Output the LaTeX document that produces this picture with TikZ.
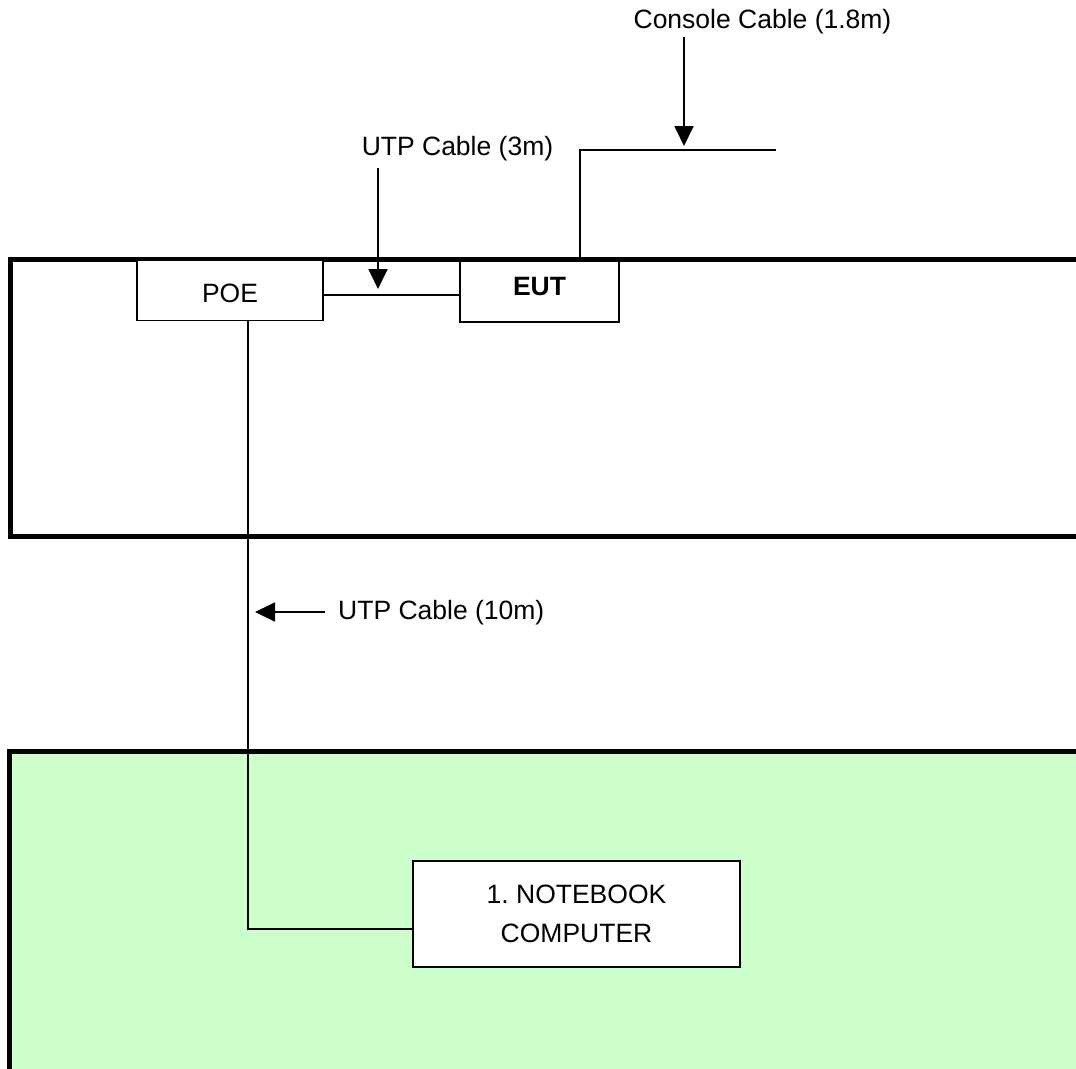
\documentclass[tikz,border=0pt]{standalone}
\usepackage{fontspec}
\setmainfont{Liberation Sans}
\frenchspacing
\usetikzlibrary{arrows.meta}
\definecolor{roomgreen}{HTML}{CCFFCC}
\tikzset{
  thin line/.style={line width=1.8pt, line join=miter},
  room/.style={line width=5pt},
  arr/.style={thin line, -{Triangle[width=19pt,length=20pt]}},
  box/.style={draw, line width=1.8pt, fill=white, inner sep=0pt},
  lbl/.style={inner sep=0pt, font=\fontsize{26.5}{39}\selectfont}
}
\begin{document}
\begin{tikzpicture}[x=1pt,y=-1pt]
\useasboundingbox (0,0) rectangle (1076,1068);
\clip (0,0) rectangle (1076,1068);
% rooms
\fill[roomgreen] (9.5,751.5) rectangle (1090,1080);
\draw[room] (1090,259.5) -- (10.5,259.5) -- (10.5,536.5) -- (1090,536.5);
\draw[room] (1090,751.5) -- (9.5,751.5) -- (9.5,1080);
% boxes
\node[box, lbl, minimum width=186pt, minimum height=60pt, text height=23pt, text depth=0pt] (POE) at (230,290.5) {POE};
\node[box, lbl, minimum width=159pt, minimum height=61pt, text height=19pt, text depth=11pt, font=\fontsize{26.5}{39}\selectfont\bfseries] (EUT) at (539.5,291.5) {EUT};
\node[box, lbl, minimum width=327pt, minimum height=106pt, align=center] (NB) at (576.5,914) {1. NOTEBOOK\\COMPUTER};
% labels
\node[lbl, anchor=base] (conlbl) at (762.5,28) {Console Cable (1.8m)};
\node[lbl, anchor=base] (utp3lbl) at (457.5,155) {UTP Cable (3m)};
\node[lbl, anchor=base west] (utp10lbl) at (338,619) {UTP Cable (10m)};
% connectors
\path (POE.east) ++(0,4.5) coordinate (c1);
\draw[thin line] (c1) -- (c1 -| EUT.west);
\coordinate (conend) at (776,150);
\draw[thin line] ([xshift=40.5pt]EUT.north) |- (conend);
\draw[thin line] ([xshift=18pt]POE.south) |- ([yshift=-15pt]NB.west);
% arrows
\coordinate (a1s) at (684,37);
\coordinate (a1e) at (684,146);
\draw[arr] (a1s) -- (a1e);
\coordinate (a2s) at (378,168);
\coordinate (a2e) at (378,289);
\draw[arr] (a2s) -- (a2e);
\coordinate (a3s) at (325,612);
\coordinate (a3e) at (255,612);
\draw[arr] (a3s) -- (a3e);
\end{tikzpicture}
\end{document}
